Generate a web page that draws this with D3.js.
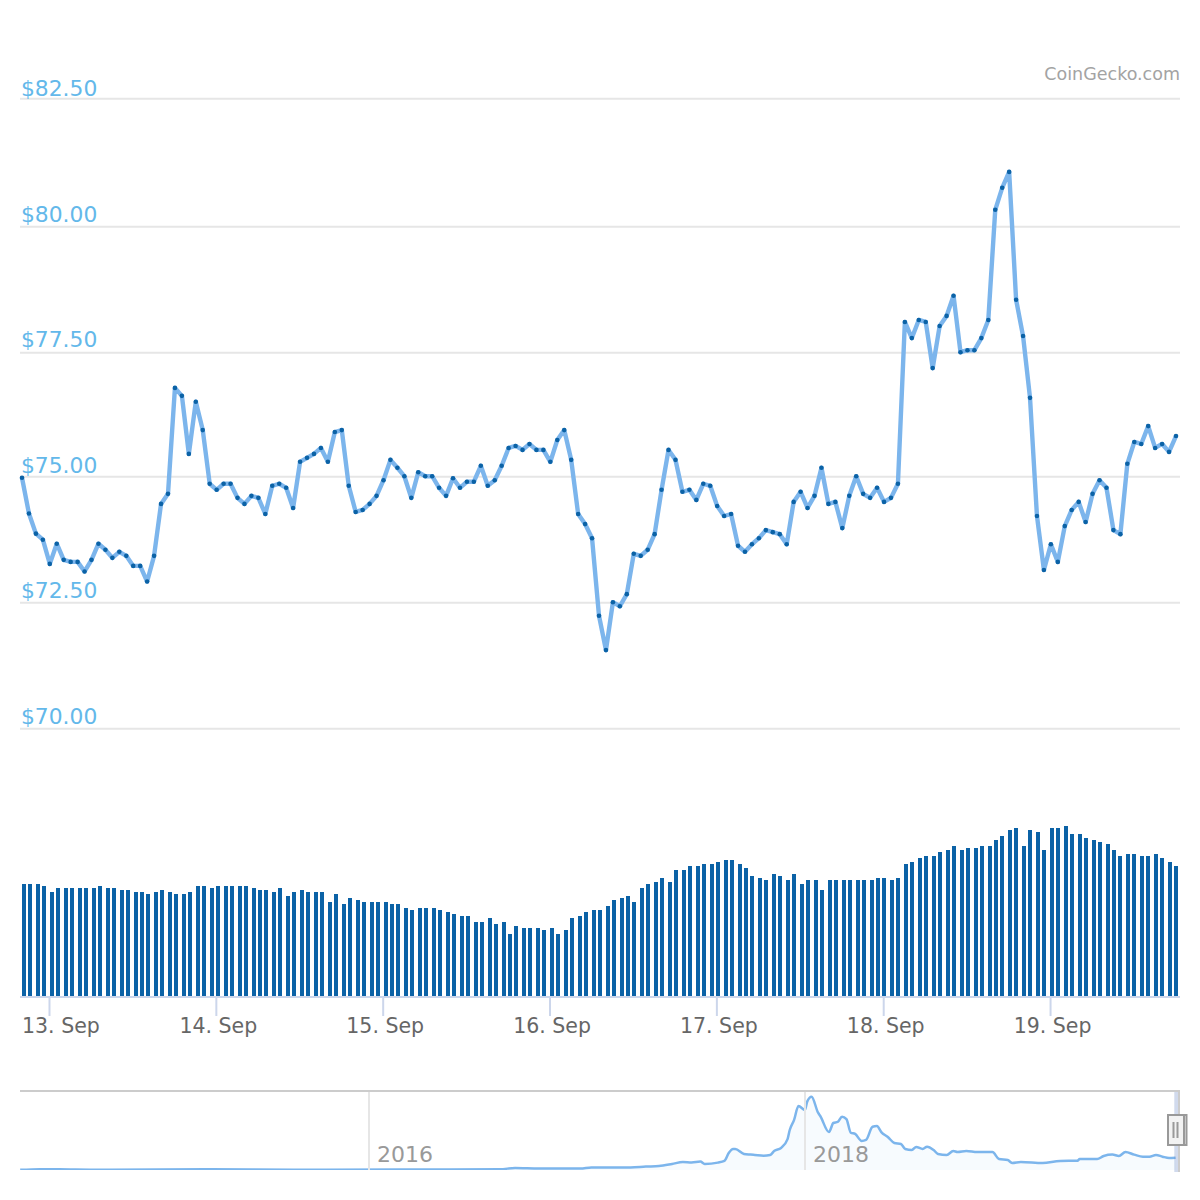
<!DOCTYPE html>
<html><head><meta charset="utf-8">
<style>
html,body{margin:0;padding:0;background:#fff}
svg{display:block}
text{font-family:"DejaVu Sans",sans-serif}
</style>
<script src="https://cdn.jsdelivr.net/npm/d3@7"></script>
</head><body>
<svg id="c" width="1200" height="1200"></svg>
<script>
const priceTicks=[70,72.5,75,77.5,80,82.5];
const seriesStart=Date.UTC(2019,8,12,20,7);
const hourMs=3600000;
const prices=[74.98,74.27,73.87,73.75,73.27,73.67,73.35,73.31,73.31,73.12,73.35,73.67,73.55,73.39,73.51,73.43,73.23,73.23,72.92,73.43,
74.46,74.66,76.79,76.63,75.46,76.51,75.94,74.86,74.74,74.86,74.86,74.58,74.46,74.62,74.58,74.26,74.82,74.86,74.78,74.38,
75.30,75.38,75.46,75.58,75.30,75.90,75.94,74.82,74.30,74.34,74.46,74.62,74.93,75.34,75.18,75.01,74.58,75.09,75.01,75.01,
74.78,74.62,74.97,74.78,74.90,74.90,75.22,74.82,74.93,75.22,75.58,75.62,75.54,75.66,75.54,75.54,75.30,75.74,75.94,75.34,
74.26,74.06,73.78,72.24,71.56,72.51,72.43,72.67,73.47,73.43,73.55,73.86,74.74,75.54,75.34,74.70,74.74,74.54,74.86,74.82,
74.42,74.22,74.26,73.63,73.51,73.66,73.78,73.94,73.90,73.86,73.66,74.50,74.70,74.38,74.62,75.18,74.46,74.50,73.98,74.62,
75.01,74.66,74.58,74.78,74.50,74.58,74.86,78.11,77.79,78.15,78.11,77.19,78.03,78.23,78.63,77.51,77.55,77.55,77.79,78.15,
80.33,80.76,81.07,78.55,77.83,76.59,74.22,73.15,73.66,73.31,74.02,74.34,74.50,74.10,74.66,74.93,74.78,73.94,73.86,75.26,
75.70,75.66,76.02,75.58,75.66,75.50,75.82];
const volumes=[112,112,112,110,104,108,108,108,108,108,108,110,108,108,106,106,104,104,102,104,
106,104,102,102,104,110,110,108,110,110,110,110,110,108,106,106,104,108,100,104,
106,104,104,104,94,102,92,98,96,94,94,94,94,92,92,88,86,88,88,88,
86,84,82,80,80,74,74,78,72,74,62,70,68,68,68,66,68,62,66,78,
80,84,86,86,90,96,98,100,94,108,112,114,118,114,126,126,130,130,132,132,
134,136,136,132,128,120,118,116,122,120,116,122,112,116,116,106,116,116,116,116,
116,116,116,118,118,116,118,132,134,138,140,140,144,146,150,146,148,148,150,150,
156,160,166,168,150,166,164,146,168,168,170,162,162,158,156,154,152,146,140,142,
142,140,140,142,138,134,130];
const navYears=[2014.40,2014.49,2014.58,2014.77,2014.81,2015.25,2015.68,2016.14,2016.60,2016.67,2016.78,2016.97,2017.02,2017.20,2017.27,2017.33,2017.39,2017.44,2017.48,2017.52,2017.54,2017.60,2017.63,2017.65,2017.67,2017.68,2017.72,2017.75,2017.77,2017.81,2017.84,2017.86,2017.89,2017.92,2017.93,2017.95,2017.97,2018.00,2018.01,2018.03,2018.06,2018.07,2018.11,2018.13,2018.15,2018.17,2018.19,2018.21,2018.23,2018.26,2018.28,2018.31,2018.33,2018.35,2018.38,2018.41,2018.44,2018.46,2018.49,2018.51,2018.54,2018.56,2018.59,2018.61,2018.65,2018.68,2018.70,2018.74,2018.79,2018.86,2018.89,2018.93,2018.95,2018.99,2019.09,2019.17,2019.25,2019.26,2019.34,2019.37,2019.41,2019.44,2019.47,2019.51,2019.55,2019.58,2019.61,2019.64,2019.67,2019.70];
const navPrices=[1,5,4,1,1,4,1,3,4,12,9,9,15,15,20,23,35,47,44,49,35,43,53,99,123,123,94,90,88,84,88,113,129,181,234,293,374,351,400,429,335,316,222,275,281,312,298,218,211,170,176,253,257,222,193,158,152,123,117,135,123,136,117,94,88,111,105,111,105,105,64,58,41,47,41,53,54,64,64,82,90,82,105,90,78,78,88,78,70,72];
const navYearTicks=[2016,2018];
const brandLabel="CoinGecko.com";

const svg=d3.select("#c");
const x=d3.scaleUtc().domain([seriesStart,seriesStart+(prices.length-1)*hourMs]).range([22,1176]);
const barX=d3.scaleLinear().domain([0,prices.length-1]).range([22,1174.5]);
const y=d3.scaleLinear().domain(priceTicks).range([728.7,602.7,476.7,352.7,226.7,98.7]);
const yLabel=d3.scaleLinear().domain([70,82.5]).range([724,96]);
const yVol=d3.scaleLinear().domain([0,170]).range([996,826]);
const xNav=d3.scaleLinear().domain([2014.4,2019.7]).range([20.2,1175.6]);
const yNav=d3.scaleLinear().domain([0,430]).range([1170,1096.5]);
const t=i=>seriesStart+i*hourMs;

svg.append("defs").append("clipPath").attr("id","navClip").append("rect")
 .attr("x",20).attr("y",1092).attr("width",1160).attr("height",78);

// grid
svg.append("g").selectAll("line").data(priceTicks).join("line")
 .attr("x1",20).attr("x2",1180).attr("y1",d=>y(d)).attr("y2",d=>y(d))
 .attr("stroke","#e6e6e6").attr("stroke-width",2);
svg.append("g").selectAll("text").data(priceTicks).join("text")
 .attr("x",21).attr("y",d=>yLabel(d)).attr("fill","#63b8ea")
 .attr("font-size",21.8).text(d=>"$"+d.toFixed(2));
svg.append("text").attr("x",1180).attr("y",80).attr("text-anchor","end")
 .attr("fill","#a3a3a3").attr("font-size",17.5).text(brandLabel);

// volume bars
svg.append("g").selectAll("rect").data(volumes).join("rect")
 .attr("x",(d,i)=>Math.round(barX(i)/2)*2).attr("width",4)
 .attr("y",d=>yVol(d)).attr("height",d=>yVol(0)-yVol(d)).attr("fill","#0b62a6");

// x axis
const ax=d3.axisBottom(x).ticks(d3.utcDay.every(1)).tickFormat(d3.utcFormat("%-d. %b")).tickSize(19).tickSizeOuter(0);
const gx=svg.append("g").attr("transform","translate(0,997)").call(ax);
gx.select(".domain").attr("d","M20,0H1180").attr("stroke","#ccd6eb").attr("stroke-width",2);
gx.selectAll(".tick line").attr("stroke","#ccd6eb").attr("stroke-width",2);
gx.selectAll(".tick text").attr("fill","#666").attr("font-size",20.5).attr("y",0).attr("dy",null)
 .attr("transform","translate(2,36)")
 .each(function(){const b=this.getBBox();const m=this.parentNode.transform.baseVal[0].matrix.e;
   if(m+b.x<22)d3.select(this).attr("transform",`translate(${22-m-b.x},36)`);});

// price line
const line=d3.line().x((d,i)=>x(t(i))).y(d=>y(d)).curve(d3.curveLinear);
svg.append("path").datum(prices).attr("d",line).attr("fill","none")
 .attr("stroke","#7cb5ec").attr("stroke-width",4.4).attr("stroke-linejoin","round");
svg.append("g").selectAll("circle").data(prices).join("circle")
 .attr("cx",(d,i)=>x(t(i))).attr("cy",d=>y(d)).attr("r",2.3).attr("fill","#0b62a6");

// navigator
const navData=navYears.map((yr,i)=>[yr,navPrices[i]]);
const nav=svg.append("g").attr("clip-path","url(#navClip)");
nav.append("path").datum(navData).attr("fill","#7cb5ec").attr("fill-opacity",0.06)
 .attr("d",d3.area().x(d=>xNav(d[0])).y0(yNav(0)).y1(d=>yNav(d[1])).curve(d3.curveMonotoneX));
svg.append("g").selectAll("line").data(navYearTicks).join("line")
 .attr("x1",d=>xNav(d)).attr("x2",d=>xNav(d)).attr("y1",1092).attr("y2",1170)
 .attr("stroke","#e6e6e6").attr("stroke-width",2);
svg.append("g").selectAll("text").data(navYearTicks).join("text")
 .attr("x",d=>xNav(d)+8).attr("y",1162).attr("fill","#999").attr("font-size",22).text(d=>d);
nav.append("path").datum(navData).attr("fill","none").attr("stroke","#7cb5ec").attr("stroke-width",2.5)
 .attr("d",d3.line().x(d=>xNav(d[0])).y(d=>yNav(d[1])).curve(d3.curveMonotoneX));
svg.append("rect").attr("x",20).attr("y",1090).attr("width",1160).attr("height",2).attr("fill","#ccc");
svg.append("rect").attr("x",1174.3).attr("y",1092).attr("width",4).attr("height",80).attr("fill","rgba(102,133,194,0.3)");
svg.append("rect").attr("x",1178).attr("y",1090).attr("width",2).attr("height",82).attr("fill","#ccc");
// handle
const h=svg.append("g");
h.append("rect").attr("x",1184).attr("y",1115).attr("width",2.5).attr("height",30).attr("fill","#f2f2f2").attr("stroke","#999").attr("stroke-width",2);
h.append("rect").attr("x",1168).attr("y",1115).attr("width",16).attr("height",30).attr("fill","#f2f2f2").attr("stroke","#999").attr("stroke-width",2);
h.selectAll("line").data([1173.5,1177.5]).join("line").attr("x1",d=>d).attr("x2",d=>d).attr("y1",1122).attr("y2",1138)
 .attr("stroke","#999").attr("stroke-width",2);
</script>
</body></html>
